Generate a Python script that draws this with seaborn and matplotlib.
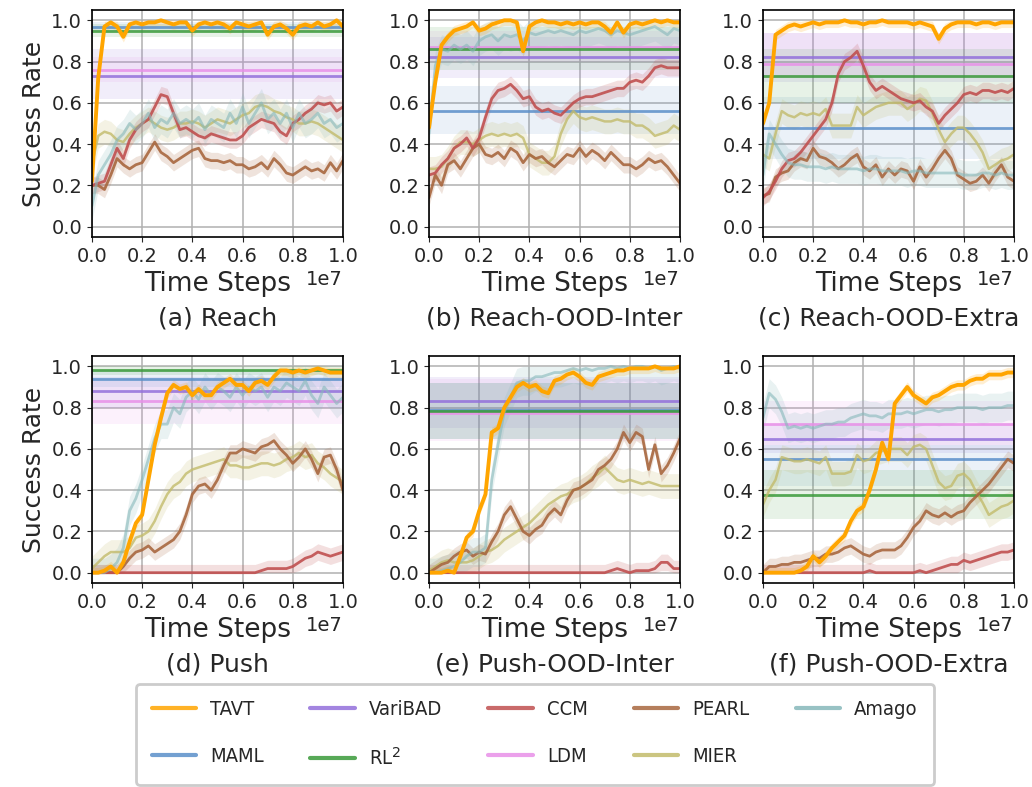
import numpy as np
import pandas as pd
import matplotlib
matplotlib.use("Agg")
import matplotlib.pyplot as plt
from matplotlib.lines import Line2D
import seaborn as sns

panel_titles = ["(a) Reach", "(b) Reach-OOD-Inter", "(c) Reach-OOD-Extra",
                "(d) Push", "(e) Push-OOD-Inter", "(f) Push-OOD-Extra"]

# learning curves, read every 0.025e7 steps (41 points), one list per panel a-f
tavt_curves = [
    [0.22, 0.72, 0.97, 0.99, 0.97, 0.92, 0.98, 0.99, 0.98, 0.99,
     0.99, 1.00, 0.99, 0.98, 0.99, 0.99, 0.95, 0.98, 0.99, 0.98,
     0.99, 0.98, 0.96, 0.99, 0.98, 0.97, 0.98, 0.99, 0.93, 0.97,
     0.98, 0.96, 0.93, 0.97, 0.98, 0.97, 0.99, 0.97, 0.98, 1.00, 0.97],
    [0.48, 0.70, 0.88, 0.92, 0.95, 0.96, 0.97, 0.99, 0.95, 0.96,
     0.98, 0.99, 1.00, 1.00, 0.99, 0.85, 0.97, 0.99, 1.00, 0.99,
     0.99, 0.98, 0.99, 0.98, 0.99, 0.98, 0.99, 0.99, 0.97, 0.94,
     0.99, 0.94, 0.98, 0.99, 0.98, 0.99, 1.00, 0.99, 1.00, 0.99, 0.99],
    [0.50, 0.60, 0.93, 0.95, 0.97, 0.98, 0.97, 0.98, 0.99, 0.98,
     0.99, 0.99, 0.99, 1.00, 0.99, 0.99, 0.98, 0.99, 0.99, 1.00,
     0.99, 0.99, 0.99, 0.99, 0.98, 0.99, 0.98, 0.97, 0.91, 0.96,
     0.98, 0.99, 0.99, 0.99, 0.98, 0.99, 0.99, 0.98, 0.99, 0.99, 0.99],
    [0.00, 0.00, 0.01, 0.03, 0.00, 0.05, 0.15, 0.24, 0.28, 0.45,
     0.62, 0.75, 0.87, 0.91, 0.89, 0.90, 0.86, 0.89, 0.86, 0.86,
     0.90, 0.92, 0.94, 0.91, 0.91, 0.88, 0.92, 0.93, 0.91, 0.95,
     0.98, 0.98, 0.97, 0.98, 0.97, 0.98, 0.99, 0.98, 0.97, 0.97, 0.97],
    [0.00, 0.00, 0.00, 0.01, 0.00, 0.08, 0.17, 0.20, 0.30, 0.38,
     0.68, 0.70, 0.80, 0.85, 0.90, 0.92, 0.90, 0.91, 0.88, 0.87,
     0.93, 0.94, 0.96, 0.97, 0.95, 0.92, 0.91, 0.95, 0.96, 0.97,
     0.98, 0.98, 0.99, 0.99, 0.99, 0.99, 1.00, 0.99, 0.99, 0.99, 1.00],
    [0.00, 0.00, 0.00, 0.00, 0.00, 0.00, 0.01, 0.03, 0.08, 0.05,
     0.08, 0.12, 0.15, 0.18, 0.25, 0.30, 0.32, 0.40, 0.50, 0.63,
     0.55, 0.82, 0.86, 0.90, 0.86, 0.84, 0.82, 0.85, 0.86, 0.88,
     0.90, 0.91, 0.91, 0.93, 0.94, 0.94, 0.96, 0.96, 0.96, 0.97, 0.97],
]

ccm_curves = [
    [0.20, 0.21, 0.22, 0.30, 0.38, 0.33, 0.42, 0.47, 0.50, 0.52,
     0.58, 0.64, 0.63, 0.55, 0.47, 0.48, 0.46, 0.44, 0.43, 0.45,
     0.44, 0.43, 0.42, 0.42, 0.44, 0.48, 0.50, 0.52, 0.51, 0.50,
     0.46, 0.44, 0.50, 0.52, 0.55, 0.57, 0.60, 0.59, 0.60, 0.56, 0.58],
    [0.25, 0.26, 0.30, 0.33, 0.38, 0.40, 0.43, 0.38, 0.43, 0.53,
     0.62, 0.66, 0.67, 0.69, 0.66, 0.62, 0.63, 0.58, 0.56, 0.57,
     0.55, 0.54, 0.57, 0.60, 0.62, 0.63, 0.63, 0.64, 0.65, 0.66,
     0.67, 0.67, 0.70, 0.71, 0.70, 0.73, 0.77, 0.78, 0.77, 0.77, 0.77],
    [0.14, 0.17, 0.22, 0.28, 0.32, 0.33, 0.36, 0.40, 0.44, 0.48,
     0.52, 0.60, 0.74, 0.80, 0.82, 0.85, 0.78, 0.70, 0.66, 0.68,
     0.66, 0.64, 0.62, 0.61, 0.60, 0.61, 0.58, 0.56, 0.50, 0.54,
     0.57, 0.60, 0.64, 0.65, 0.64, 0.66, 0.66, 0.65, 0.66, 0.65, 0.67],
    [0.00, 0.00, 0.00, 0.00, 0.00, 0.00, 0.00, 0.00, 0.00, 0.00,
     0.00, 0.00, 0.00, 0.00, 0.00, 0.00, 0.00, 0.00, 0.00, 0.00,
     0.00, 0.00, 0.00, 0.00, 0.00, 0.00, 0.00, 0.01, 0.02, 0.02,
     0.02, 0.02, 0.03, 0.05, 0.07, 0.08, 0.10, 0.09, 0.08, 0.09, 0.10],
    [0.00, 0.00, 0.00, 0.00, 0.00, 0.00, 0.00, 0.00, 0.00, 0.00,
     0.00, 0.00, 0.00, 0.00, 0.00, 0.00, 0.00, 0.00, 0.00, 0.00,
     0.00, 0.00, 0.00, 0.00, 0.00, 0.00, 0.00, 0.00, 0.00, 0.01,
     0.02, 0.01, 0.00, 0.01, 0.01, 0.01, 0.02, 0.05, 0.05, 0.02, 0.02],
    [0.00, 0.00, 0.00, 0.00, 0.00, 0.00, 0.00, 0.00, 0.00, 0.00,
     0.00, 0.00, 0.00, 0.00, 0.00, 0.00, 0.00, 0.01, 0.00, 0.00,
     0.00, 0.00, 0.00, 0.00, 0.00, 0.01, 0.00, 0.01, 0.02, 0.03,
     0.04, 0.04, 0.06, 0.05, 0.06, 0.07, 0.08, 0.09, 0.10, 0.10, 0.11],
]

pearl_curves = [
    [0.20, 0.20, 0.18, 0.25, 0.33, 0.30, 0.28, 0.30, 0.31, 0.36,
     0.41, 0.36, 0.34, 0.31, 0.33, 0.35, 0.37, 0.38, 0.33, 0.32,
     0.32, 0.31, 0.32, 0.30, 0.30, 0.28, 0.29, 0.31, 0.28, 0.33,
     0.30, 0.26, 0.25, 0.27, 0.29, 0.27, 0.28, 0.26, 0.31, 0.27, 0.32],
    [0.14, 0.25, 0.20, 0.30, 0.32, 0.28, 0.33, 0.38, 0.40, 0.35,
     0.34, 0.36, 0.33, 0.38, 0.36, 0.31, 0.35, 0.33, 0.34, 0.31,
     0.29, 0.32, 0.35, 0.34, 0.38, 0.34, 0.37, 0.35, 0.32, 0.36,
     0.33, 0.30, 0.30, 0.28, 0.30, 0.33, 0.31, 0.32, 0.29, 0.25, 0.21],
    [0.15, 0.16, 0.24, 0.26, 0.27, 0.31, 0.33, 0.32, 0.38, 0.34,
     0.33, 0.31, 0.28, 0.30, 0.33, 0.35, 0.29, 0.27, 0.30, 0.24,
     0.28, 0.25, 0.28, 0.27, 0.22, 0.29, 0.24, 0.28, 0.33, 0.37,
     0.33, 0.25, 0.23, 0.21, 0.22, 0.25, 0.21, 0.26, 0.30, 0.24, 0.22],
    [0.00, 0.00, 0.00, 0.00, 0.00, 0.03, 0.07, 0.10, 0.11, 0.13,
     0.10, 0.12, 0.14, 0.16, 0.20, 0.28, 0.38, 0.42, 0.43, 0.40,
     0.45, 0.52, 0.58, 0.58, 0.60, 0.59, 0.58, 0.61, 0.62, 0.64,
     0.60, 0.57, 0.53, 0.56, 0.60, 0.55, 0.48, 0.56, 0.57, 0.50, 0.40],
    [0.00, 0.02, 0.04, 0.05, 0.08, 0.10, 0.11, 0.08, 0.10, 0.09,
     0.15, 0.20, 0.28, 0.32, 0.26, 0.20, 0.18, 0.21, 0.23, 0.28,
     0.31, 0.28, 0.35, 0.40, 0.41, 0.43, 0.45, 0.50, 0.52, 0.55,
     0.60, 0.68, 0.63, 0.68, 0.66, 0.50, 0.62, 0.48, 0.52, 0.58, 0.65],
    [0.00, 0.03, 0.03, 0.04, 0.04, 0.05, 0.05, 0.06, 0.07, 0.07,
     0.09, 0.09, 0.10, 0.12, 0.13, 0.11, 0.09, 0.08, 0.10, 0.11,
     0.11, 0.11, 0.13, 0.17, 0.22, 0.25, 0.30, 0.28, 0.27, 0.29,
     0.27, 0.29, 0.30, 0.34, 0.37, 0.40, 0.43, 0.47, 0.51, 0.55, 0.53],
]

amago_curves = [
    [0.10, 0.25, 0.30, 0.35, 0.42, 0.45, 0.50, 0.47, 0.50, 0.55,
     0.48, 0.52, 0.50, 0.55, 0.50, 0.52, 0.50, 0.53, 0.47, 0.52,
     0.50, 0.48, 0.55, 0.50, 0.58, 0.50, 0.55, 0.60, 0.52, 0.55,
     0.50, 0.55, 0.48, 0.55, 0.50, 0.52, 0.55, 0.50, 0.52, 0.48, 0.50],
    [0.45, 0.78, 0.86, 0.85, 0.88, 0.86, 0.88, 0.85, 0.90, 0.92,
     0.93, 0.90, 0.93, 0.92, 0.93, 0.90, 0.94, 0.93, 0.94, 0.95,
     0.94, 0.95, 0.94, 0.93, 0.95, 0.94, 0.95, 0.96, 0.95, 0.93,
     0.95, 0.94, 0.93, 0.94, 0.95, 0.96, 0.97, 0.95, 0.93, 0.96, 0.95],
    [0.25, 0.45, 0.40, 0.35, 0.31, 0.30, 0.30, 0.29, 0.29, 0.29,
     0.28, 0.29, 0.28, 0.28, 0.28, 0.28, 0.27, 0.28, 0.28, 0.27,
     0.27, 0.27, 0.27, 0.26, 0.27, 0.27, 0.26, 0.26, 0.26, 0.26,
     0.26, 0.26, 0.25, 0.25, 0.25, 0.26, 0.26, 0.25, 0.26, 0.25, 0.25],
    [0.00, 0.00, 0.00, 0.02, 0.05, 0.12, 0.30, 0.36, 0.45, 0.55,
     0.65, 0.72, 0.72, 0.80, 0.77, 0.85, 0.88, 0.84, 0.90, 0.86,
     0.90, 0.88, 0.85, 0.90, 0.86, 0.90, 0.88, 0.90, 0.85, 0.90,
     0.88, 0.92, 0.90, 0.88, 0.93, 0.86, 0.82, 0.90, 0.86, 0.82, 0.85],
    [0.00, 0.00, 0.01, 0.02, 0.03, 0.05, 0.08, 0.10, 0.10, 0.12,
     0.45, 0.62, 0.78, 0.85, 0.92, 0.93, 0.93, 0.95, 0.95, 0.96,
     0.97, 0.97, 0.98, 0.99, 0.98, 0.99, 0.98, 0.99, 0.99, 1.00,
     0.99, 1.00, 0.99, 1.00, 1.00, 0.99, 1.00, 0.98, 0.99, 1.00, 0.99],
    [0.75, 0.87, 0.84, 0.78, 0.70, 0.71, 0.70, 0.71, 0.70, 0.71,
     0.72, 0.72, 0.73, 0.73, 0.75, 0.76, 0.77, 0.76, 0.76, 0.75,
     0.77, 0.77, 0.77, 0.78, 0.77, 0.78, 0.79, 0.79, 0.78, 0.79,
     0.79, 0.80, 0.80, 0.80, 0.80, 0.79, 0.80, 0.80, 0.80, 0.81, 0.81],
]

mier_curves = [
    [0.30, 0.44, 0.46, 0.45, 0.42, 0.41, 0.45, 0.48, 0.50, 0.52,
     0.50, 0.48, 0.47, 0.48, 0.50, 0.50, 0.51, 0.50, 0.48, 0.50,
     0.52, 0.51, 0.50, 0.52, 0.54, 0.55, 0.58, 0.59, 0.58, 0.56,
     0.55, 0.53, 0.52, 0.50, 0.50, 0.51, 0.50, 0.48, 0.46, 0.44, 0.42],
    [0.28, 0.28, 0.29, 0.33, 0.38, 0.41, 0.41, 0.40, 0.42, 0.44,
     0.45, 0.44, 0.45, 0.44, 0.45, 0.43, 0.35, 0.33, 0.31, 0.31,
     0.34, 0.45, 0.52, 0.56, 0.53, 0.52, 0.53, 0.52, 0.51, 0.51,
     0.52, 0.51, 0.51, 0.49, 0.49, 0.47, 0.44, 0.45, 0.46, 0.49, 0.47],
    [0.35, 0.33, 0.45, 0.56, 0.54, 0.53, 0.55, 0.54, 0.55, 0.54,
     0.57, 0.49, 0.49, 0.49, 0.49, 0.58, 0.54, 0.56, 0.58, 0.59,
     0.60, 0.60, 0.60, 0.57, 0.59, 0.62, 0.61, 0.55, 0.47, 0.41,
     0.45, 0.48, 0.48, 0.45, 0.41, 0.36, 0.28, 0.30, 0.32, 0.33, 0.35],
    [0.02, 0.05, 0.08, 0.10, 0.10, 0.10, 0.12, 0.17, 0.18, 0.20,
     0.25, 0.32, 0.38, 0.42, 0.44, 0.48, 0.50, 0.51, 0.52, 0.53,
     0.54, 0.55, 0.52, 0.52, 0.51, 0.51, 0.52, 0.53, 0.53, 0.52,
     0.53, 0.55, 0.56, 0.58, 0.56, 0.57, 0.53, 0.51, 0.48, 0.46, 0.44],
    [0.01, 0.03, 0.05, 0.06, 0.05, 0.05, 0.05, 0.06, 0.08, 0.10,
     0.11, 0.13, 0.16, 0.18, 0.20, 0.22, 0.24, 0.27, 0.30, 0.33,
     0.35, 0.37, 0.38, 0.40, 0.41, 0.43, 0.46, 0.48, 0.51, 0.48,
     0.45, 0.44, 0.45, 0.44, 0.43, 0.44, 0.43, 0.42, 0.42, 0.42, 0.42],
    [0.33, 0.40, 0.45, 0.56, 0.55, 0.54, 0.54, 0.55, 0.54, 0.53,
     0.56, 0.48, 0.48, 0.48, 0.49, 0.57, 0.54, 0.55, 0.58, 0.59,
     0.60, 0.60, 0.60, 0.57, 0.61, 0.62, 0.60, 0.52, 0.44, 0.41,
     0.42, 0.47, 0.48, 0.45, 0.39, 0.34, 0.28, 0.30, 0.32, 0.33, 0.35],
]

# half-width of the shaded spread around each curve
curve_spread = {"TAVT": 0.025, "CCM": 0.04, "PEARL": 0.04, "Amago": 0.07, "MIER": 0.06}

# final-performance baselines (mean, low, high) per panel a-f
maml_mean = [0.97, 0.56, 0.48, 0.94, 0.79, 0.55]
maml_low = [0.95, 0.45, 0.33, 0.90, 0.65, 0.42]
maml_high = [0.99, 0.68, 0.63, 0.98, 0.92, 0.62]
varibad_mean = [0.73, 0.82, 0.82, 0.88, 0.83, 0.65]
varibad_low = [0.62, 0.72, 0.70, 0.80, 0.70, 0.58]
varibad_high = [0.86, 0.92, 0.94, 0.95, 0.95, 0.72]
rl2_mean = [0.95, 0.86, 0.73, 0.98, 0.785, 0.375]
rl2_low = [0.92, 0.76, 0.60, 0.96, 0.65, 0.26]
rl2_high = [0.98, 0.97, 0.86, 1.00, 0.92, 0.50]
ldm_mean = [0.76, 0.87, 0.79, 0.83, 0.775, 0.72]
ldm_low = [0.70, 0.80, 0.72, 0.72, 0.64, 0.62]
ldm_high = [0.82, 0.95, 0.94, 0.93, 0.94, 0.83]

colors = {
    "TAVT": "#ffa500", "MAML": "#5b8fc9", "VariBAD": "#9370db", "RL2": "#3a9a3a",
    "CCM": "#c05050", "LDM": "#e890e8", "PEARL": "#a8673f", "MIER": "#c2bb6b",
    "Amago": "#86b8ba",
}

sns.set_style("ticks")
plt.rcParams["font.family"] = ["DejaVu Sans"]

curves = {"MIER": mier_curves, "PEARL": pearl_curves, "CCM": ccm_curves,
          "Amago": amago_curves, "TAVT": tavt_curves}
baselines = {
    "LDM": (ldm_mean, ldm_low, ldm_high),
    "VariBAD": (varibad_mean, varibad_low, varibad_high),
    "MAML": (maml_mean, maml_low, maml_high),
    "RL2": (rl2_mean, rl2_low, rl2_high),
}
line_style = {"TAVT": (2.8, 1.0), "CCM": (2.0, 0.9), "PEARL": (2.0, 0.9),
              "Amago": (2.0, 0.6), "MIER": (1.8, 0.8)}

fig = plt.figure(figsize=(10.32, 7.87), dpi=100)
lefts = [0.0891, 0.4157, 0.7393]
bottoms = [0.6989, 0.2592]

for i, title in enumerate(panel_titles):
    ax = fig.add_axes([lefts[i % 3], bottoms[i // 3], 0.2432, 0.2884])

    for name, (mean, low, high) in baselines.items():
        ax.axhspan(low[i], high[i], color=colors[name], alpha=0.12, lw=0)
        ax.axhline(mean[i], color=colors[name], lw=2, alpha=0.85)

    for name, series in curves.items():
        y = np.array(series[i])
        x = np.linspace(0, 1e7, len(y))
        s = curve_spread[name]
        ax.fill_between(x, np.clip(y - s, 0, 1), np.clip(y + s, 0, 1),
                        color=colors[name], alpha=0.18, lw=0)
        df = pd.DataFrame({"step": x, "rate": y})
        lw, alpha = line_style[name]
        sns.lineplot(data=df, x="step", y="rate", ax=ax, color=colors[name],
                     lw=lw, alpha=alpha)

    ax.set_xlim(0, 1e7)
    ax.set_ylim(-0.05, 1.05)
    ax.set_xticks(np.linspace(0, 1e7, 6))
    ax.set_yticks(np.linspace(0, 1, 6))
    ax.tick_params(labelsize=14, colors="#262626")
    ax.xaxis.get_offset_text().set_fontsize(14)
    ax.grid(True, color="#b0b0b0", lw=1.1)
    for sp in ax.spines.values():
        sp.set_color("black")
        sp.set_linewidth(1.2)
    ax.set_xlabel("Time Steps", fontsize=19)
    ax.set_ylabel("Success Rate" if i % 3 == 0 else "", fontsize=18)
    ax.text(0.5, -0.36, title, transform=ax.transAxes, ha="center", va="center",
            fontsize=18, color="#262626")

order = ["TAVT", "MAML", "VariBAD", "RL2", "CCM", "LDM", "PEARL", "MIER", "Amago"]
labels = {"RL2": "RL$^2$"}
handles = [Line2D([], [], color=colors[n], lw=3, alpha=0.85) for n in order]
leg = fig.legend(handles, [labels.get(n, n) for n in order], loc="lower center",
                 bbox_to_anchor=(0.5184, 0.0), ncol=5,
                 prop={"size": 14.5, "stretch": "condensed"},
                 handlelength=2.2, handletextpad=0.7, columnspacing=2.3,
                 labelspacing=1.4, borderpad=0.8, borderaxespad=0.1,
                 fancybox=True, edgecolor="#cccccc", framealpha=1)
leg.get_frame().set_linewidth(2)

fig.savefig("out.png", dpi=100)
plt.close(fig)
